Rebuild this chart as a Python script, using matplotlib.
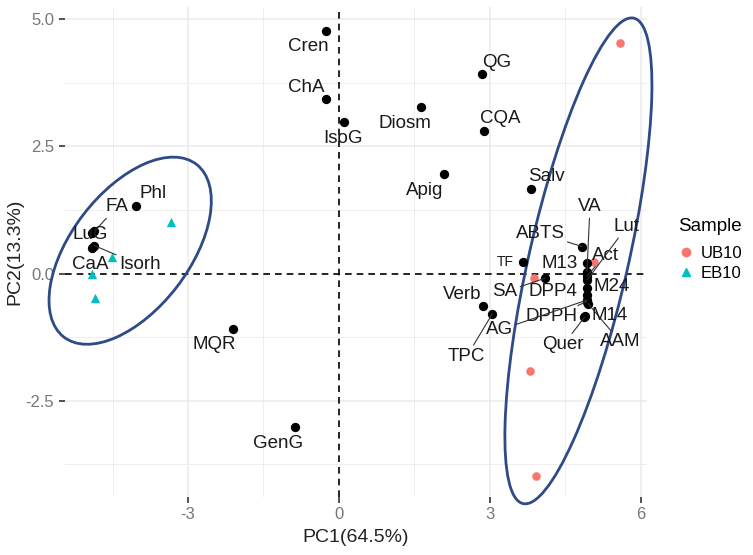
import numpy as np
import matplotlib
matplotlib.use('Agg')
import matplotlib.pyplot as plt
from matplotlib.patches import Ellipse
from matplotlib.lines import Line2D

plt.rcParams['font.family'] = ['Liberation Sans', 'DejaVu Sans']

# variable loadings (PC1, PC2)
var_names = ['Cren', 'ChA', 'IsoG', 'Diosm', 'QG', 'CQA', 'Apig', 'Salv',
             'Phl', 'FA', 'LuG', 'CaA', 'Isorh', 'MQR', 'GenG',
             'ABTS', 'TF', 'M13', 'VA', 'Act', 'Lut', 'M24', 'DPP4', 'SA',
             'DPPH', 'AG', 'AAM', 'M14', 'Quer', 'Verb', 'TPC']
var_pc1 = [-0.26, -0.26, 0.10, 1.64, 2.84, 2.88, 2.08, 3.81,
           -4.04, -4.86, -4.90, -4.90, -4.86, -2.10, -0.87,
           4.84, 3.66, 4.93, 4.93, 4.93, 4.93, 4.93, 4.93, 4.10,
           4.93, 4.93, 4.95, 4.90, 4.88, 2.87, 3.05]
var_pc2 = [4.77, 3.44, 2.98, 3.27, 3.93, 2.81, 1.95, 1.66,
           1.33, 0.83, 0.80, 0.51, 0.55, -1.10, -3.01,
           0.53, 0.23, 0.20, 0.04, -0.05, -0.13, -0.29, -0.42, -0.09,
           -0.55, -0.52, -0.59, -0.83, -0.86, -0.63, -0.79]

# sample scores
ub10_pc1 = [5.59, 5.06, 3.88, 3.80, 3.92]
ub10_pc2 = [4.54, 0.22, -0.09, -1.91, -3.98]
eb10_pc1 = [-3.34, -4.52, -4.90, -4.85]
eb10_pc2 = [1.01, 0.33, 0.00, -0.49]

# label placement (repelled text positions)
label_pos = {
    'Cren': (-0.61, 4.46), 'ChA': (-0.64, 3.67), 'IsoG': (0.09, 2.66),
    'Diosm': (1.31, 2.95), 'QG': (3.14, 4.16), 'CQA': (3.20, 3.05),
    'Apig': (1.71, 1.63), 'Salv': (4.13, 1.90), 'Phl': (-3.70, 1.58),
    'FA': (-4.42, 1.31), 'LuG': (-4.95, 0.76), 'CaA': (-4.95, 0.17),
    'Isorh': (-3.96, 0.17), 'MQR': (-2.47, -1.40), 'GenG': (-1.21, -3.34),
    'ABTS': (4.00, 0.79), 'TF': (3.30, 0.23), 'M13': (4.39, 0.20),
    'VA': (4.99, 1.31), 'Act': (5.29, 0.36), 'Lut': (5.72, 0.92),
    'M24': (5.42, -0.26), 'DPP4': (4.26, -0.36), 'SA': (3.30, -0.36),
    'DPPH': (4.23, -0.85), 'AG': (3.20, -1.11), 'AAM': (5.59, -1.34),
    'M14': (5.39, -0.82), 'Quer': (4.46, -1.40), 'Verb': (2.44, -0.42),
    'TPC': (2.54, -1.63),
}
with_segment = ['FA', 'Isorh', 'ABTS', 'VA', 'Act', 'Lut', 'SA', 'DPPH',
                'AG', 'TPC', 'Quer', 'AAM']

fig = plt.figure(figsize=(7.53, 5.55), dpi=100)
ax = fig.add_axes([0.086, 0.105, 0.773, 0.882])

ax.set_xlim(-5.45, 6.12)
ax.set_ylim(-4.39, 5.24)

grid_c = '#EBEBEB'
for v in [-4.5, -1.5, 1.5, 4.5]:
    ax.axvline(v, color=grid_c, lw=0.6, zorder=0)
for v in [-3.75, -1.25, 1.25, 3.75]:
    ax.axhline(v, color=grid_c, lw=0.6, zorder=0)
for v in [-3, 3, 6]:
    ax.axvline(v, color=grid_c, lw=1.1, zorder=0)
for v in [-2.5, 2.5, 5.0]:
    ax.axhline(v, color=grid_c, lw=1.1, zorder=0)

ax.axhline(0, color='black', ls=(0, (4, 3)), lw=1.2, zorder=1)
ax.axvline(0, color='black', ls=(0, (4, 3)), lw=1.2, zorder=1)

# confidence ellipses
ell_c = '#2E4A87'
ax.add_patch(Ellipse((-4.15, 0.45), 4.30, 2.34, angle=52, fill=False,
                     ec=ell_c, lw=2.0, zorder=2, clip_on=False))
ax.add_patch(Ellipse((4.76, 0.25), 9.80, 1.97, angle=77, fill=False,
                     ec=ell_c, lw=2.0, zorder=2, clip_on=False))

ax.scatter(ub10_pc1, ub10_pc2, s=38, c='#F8766D', marker='o', lw=0, zorder=3)
ax.scatter(eb10_pc1, eb10_pc2, s=45, c='#00BFC4', marker='^', lw=0, zorder=3)
ax.scatter(var_pc1, var_pc2, s=45, c='black', lw=0, zorder=4)

for name, x, y in zip(var_names, var_pc1, var_pc2):
    tx, ty = label_pos[name]
    fs = 10 if name == 'TF' else 13.5
    if name in with_segment:
        ax.annotate(name, xy=(x, y), xytext=(tx, ty), ha='center', va='center',
                    fontsize=fs, color='#1a1a1a', zorder=5,
                    arrowprops=dict(arrowstyle='-', color='#333333', lw=0.8,
                                    shrinkA=0, shrinkB=0))
    else:
        ax.text(tx, ty, name, ha='center', va='center', fontsize=fs,
                color='#1a1a1a', zorder=5)

for s in ax.spines.values():
    s.set_visible(False)
ax.set_xticks([-3, 0, 3, 6])
ax.set_xticklabels(['-3', '0', '3', '6'])
ax.set_yticks([-2.5, 0.0, 2.5, 5.0])
ax.set_yticklabels(['-2.5', '0.0', '2.5', '5.0'])
ax.tick_params(colors='#333333', labelcolor='#777777', labelsize=12,
               length=4, width=1.2)
ax.set_xlabel('PC1(64.5%)', fontsize=14, color='#222222', labelpad=5)
ax.set_ylabel('PC2(13.3%)', fontsize=14, color='#222222', labelpad=2)

handles = [Line2D([], [], marker='o', ls='', color='#F8766D', markersize=6),
           Line2D([], [], marker='^', ls='', color='#00BFC4', markersize=6)]
leg = fig.legend(handles, ['UB10', 'EB10'], title='Sample', frameon=False,
                 loc='center left', bbox_to_anchor=(0.9, 0.55), fontsize=12,
                 title_fontsize=13.5, handlelength=1.0, handletextpad=0.4,
                 borderpad=0, borderaxespad=0, labelspacing=0.3)
leg._legend_box.align = 'left'
leg._legend_box.sep = 8

fig.savefig('out.png', dpi=100)
